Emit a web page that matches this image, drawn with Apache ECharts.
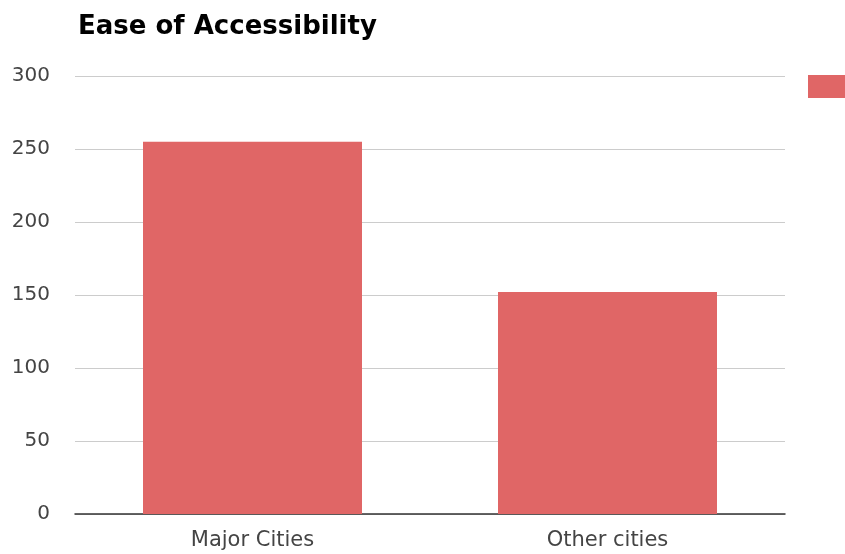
<!DOCTYPE html>
<html>
<head>
<meta charset="utf-8">
<script src="https://cdn.jsdelivr.net/npm/echarts@6/dist/echarts.min.js"></script>
<style>html,body{margin:0;padding:0;background:#fff}#c{width:845px;height:554px}</style>
</head>
<body>
<div id="c"></div>
<script>
const titleText = 'Ease of Accessibility';
const categories = ['Major Cities', 'Other cities'];
const seriesName = 'Count';
const values = [255, 152];
const yTicks = [0, 50, 100, 150, 200, 250, 300];

const chart = echarts.init(document.getElementById('c'), null, {renderer: 'canvas'});
chart.setOption({
  animation: false,
  backgroundColor: '#ffffff',
  title: {
    text: titleText,
    left: 73, top: 9,
    textStyle: {fontFamily: 'DejaVu Sans', fontWeight: 'bold', fontSize: 26, color: '#000000'}
  },
  legend: {
    show: true,
    left: 803, top: 70,
    icon: 'rect',
    itemWidth: 40, itemHeight: 23,
    textStyle: {fontFamily: 'DejaVu Sans', fontSize: 18, color: '#222'},
    data: [seriesName]
  },
  grid: {left: 75, right: 60, top: 76, bottom: 40, containLabel: false},
  xAxis: {
    type: 'category',
    data: categories,
    axisTick: {show: false},
    axisLine: {lineStyle: {color: '#333333', width: 1.5}},
    axisLabel: {fontFamily: 'DejaVu Sans', fontSize: 21, color: '#444444', margin: 16}
  },
  yAxis: {
    type: 'value',
    min: yTicks[0], max: yTicks[yTicks.length - 1], interval: 50,
    axisLine: {show: false},
    axisTick: {show: false},
    splitLine: {lineStyle: {color: '#cccccc', width: 1}},
    axisLabel: {fontFamily: 'DejaVu Sans', fontSize: 20, color: '#444444', margin: 25, padding: [4, 0, 0, 0]}
  },
  series: [{
    name: seriesName,
    type: 'bar',
    data: values,
    barWidth: 219,
    itemStyle: {color: '#e06666'}
  }]
});
</script>
</body>
</html>
